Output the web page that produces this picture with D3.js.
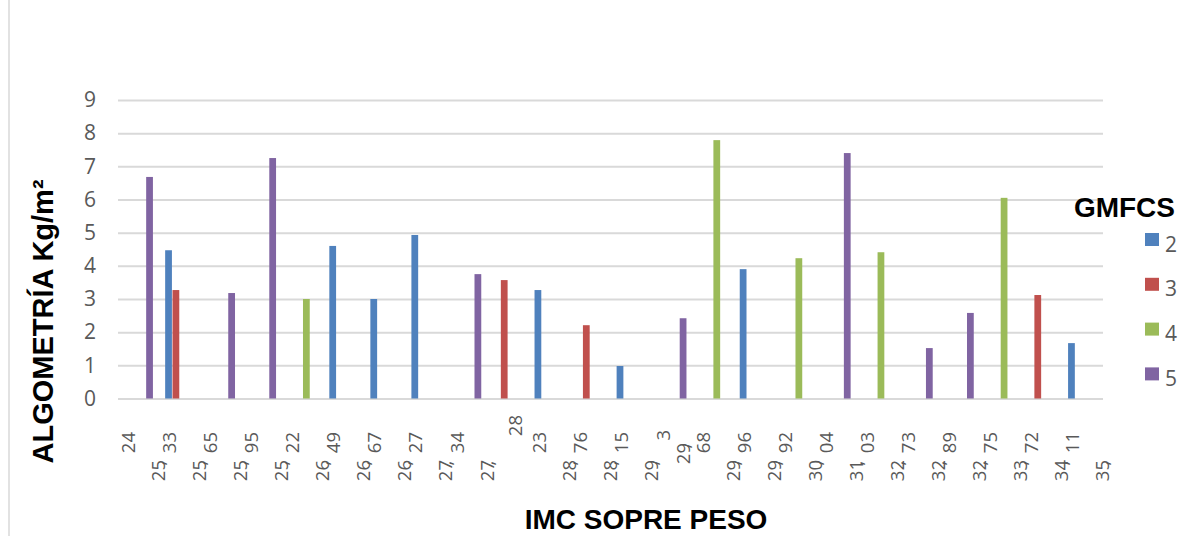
<!DOCTYPE html>
<html>
<head>
<meta charset="utf-8">
<script src="https://cdn.jsdelivr.net/npm/d3@7"></script>
<style>
  body { margin: 0; background: #ffffff; }
  svg { display: block; }
</style>
</head>
<body>
<svg id="chart" width="1192" height="536"></svg>
<script>
// IMC values (category labels, decimal comma)
const categories = [
  "25,24", "25,33", "25,65", "25,95", "26,22", "26,49", "26,67", "27,27",
  "27,34", "28", "28,23", "28,76", "29,15", "29,3", "29,68", "29,96",
  "30,92", "31,04", "32,03", "32,73", "32,89", "33,75", "34,72", "35,11"
];

// GMFCS levels shown in the legend
const seriesNames = ["2", "3", "4", "5"];
const seriesColors = ["#4F81BD", "#C0504D", "#9BBB59", "#8064A2"];

// Algometry (Kg/m²) per IMC category, one array per GMFCS level
const gmfcs2 = [null, 4.47, null, null, null, 4.6, 3.0, 4.93, null, null, 3.27, null,
                0.98, null, null, 3.9, null, null, null, null, null, null, null, 1.67];
const gmfcs3 = [null, 3.27, null, null, null, null, null, null, null, 3.57, null, 2.21,
                null, null, null, null, null, null, null, null, null, null, 3.12, null];
const gmfcs4 = [null, null, null, null, 3.0, null, null, null, null, null, null, null,
                null, null, 7.79, null, 4.23, null, 4.41, null, null, 6.05, null, null];
const gmfcs5 = [6.68, null, 3.18, 7.25, null, null, null, null, 3.75, null, null, null,
                null, 2.42, null, null, null, 7.40, null, 1.52, 2.58, null, null, null];

const yTicks = [0, 1, 2, 3, 4, 5, 6, 7, 8, 9];

const seriesValues = [gmfcs2, gmfcs3, gmfcs4, gmfcs5];

const svg = d3.select("#chart");
const plot = { left: 118, right: 1103, top: 100, bottom: 398.5 };
const labelFont = "'Open Sans', 'Liberation Sans', sans-serif";
const titleFont = "'Liberation Sans', Arial, sans-serif";
const textGrey = "#595959";

// chart frame edge
svg.append("line")
  .attr("x1", 9).attr("x2", 9).attr("y1", 0).attr("y2", 536)
  .attr("stroke", "#D9D9D9").attr("stroke-width", 1.5);

const x0 = d3.scaleBand().domain(categories).range([plot.left, plot.right]).padding(0);
const bw = x0.bandwidth();
const x1 = d3.scaleBand().domain(seriesNames)
  .range([bw * 0.149, bw * 0.851]).paddingInner(0.08);
const y = d3.scaleLinear().domain([0, 9]).range([plot.bottom, plot.top]);

// horizontal gridlines
const grid = svg.append("g")
  .attr("transform", `translate(${plot.left},0)`)
  .call(d3.axisLeft(y).tickValues(yTicks).tickSize(-(plot.right - plot.left)).tickFormat(""));
grid.select(".domain").remove();
grid.selectAll("line").attr("stroke", "#D9D9D9").attr("stroke-width", 2);

// y tick labels
const yAxis = svg.append("g")
  .attr("transform", `translate(${plot.left},0)`)
  .call(d3.axisLeft(y).tickValues(yTicks).tickSize(0).tickPadding(22));
yAxis.select(".domain").remove();
yAxis.selectAll("text")
  .attr("font-family", labelFont).attr("font-size", 21).attr("fill", textGrey);

// bars
const bars = [];
seriesNames.forEach((s, i) => {
  seriesValues[i].forEach((v, j) => {
    if (v !== null) bars.push({ cat: categories[j], s, v, color: seriesColors[i] });
  });
});

svg.append("g").selectAll("rect")
  .data(bars)
  .join("rect")
  .attr("x", d => x0(d.cat) + x1(d.s))
  .attr("width", x1.bandwidth())
  .attr("y", d => y(d.v))
  .attr("height", d => y(0) - y(d.v))
  .attr("fill", d => d.color);

// x tick labels: integer part and decimal part set as separate vertical runs
const xAxis = svg.append("g")
  .attr("transform", `translate(0,${plot.bottom})`)
  .call(d3.axisBottom(x0).tickSize(0).tickFormat(""));
xAxis.select(".domain").remove();
xAxis.selectAll(".tick text").remove();

function run(g, str, dx, top, withComma) {
  const t = g.append("text")
    .attr("transform", `translate(${dx},${top}) rotate(-90)`)
    .attr("text-anchor", "end")
    .attr("dy", "0.36em")
    .attr("font-family", labelFont)
    .attr("font-size", 18.5)
    .attr("fill", textGrey);
  t.append("tspan").text(str);
  if (withComma) {
    // the decimal comma tucks in against the last digit
    t.append("tspan").attr("dx", "-0.3em").text(",");
  }
}

xAxis.selectAll(".tick").each(function (d) {
  const g = d3.select(this);
  const parts = d.split(",");
  if (parts.length === 1) {
    run(g, parts[0], 7, 16.5, false);
  } else if (parts[1].length === 1) {
    run(g, parts[1], -9, 31.5, false);
    run(g, parts[0], 11, 44.5, true);
  } else {
    run(g, parts[1], -10, 33.5, false);
    run(g, parts[0], 20, 61.5, true);
  }
});

// axis titles
svg.append("text")
  .attr("transform", "translate(53,321.5) rotate(-90)")
  .attr("text-anchor", "middle")
  .attr("font-family", titleFont).attr("font-weight", "bold")
  .attr("font-size", 29).attr("fill", "#000")
  .text("ALGOMETRÍA Kg/m²");

svg.append("text")
  .attr("x", 646).attr("y", 529)
  .attr("text-anchor", "middle")
  .attr("font-family", titleFont).attr("font-weight", "bold")
  .attr("font-size", 28).attr("fill", "#000")
  .text("IMC SOPRE PESO");

// legend
const legend = svg.append("g");
legend.append("text")
  .attr("x", 1175).attr("y", 217)
  .attr("text-anchor", "end")
  .attr("font-family", titleFont).attr("font-weight", "bold")
  .attr("font-size", 28).attr("fill", "#000")
  .text("GMFCS");

const items = legend.selectAll("g.item")
  .data(seriesNames.map((s, i) => ({ s, color: seriesColors[i], i })))
  .join("g")
  .attr("class", "item")
  .attr("transform", d => `translate(1145,${233 + d.i * 44.8})`);
items.append("rect")
  .attr("width", 14).attr("height", 13)
  .attr("fill", d => d.color);
items.append("text")
  .attr("x", 20).attr("y", 18.5)
  .attr("font-family", labelFont).attr("font-size", 21).attr("fill", textGrey)
  .text(d => d.s);
</script>
</body>
</html>
